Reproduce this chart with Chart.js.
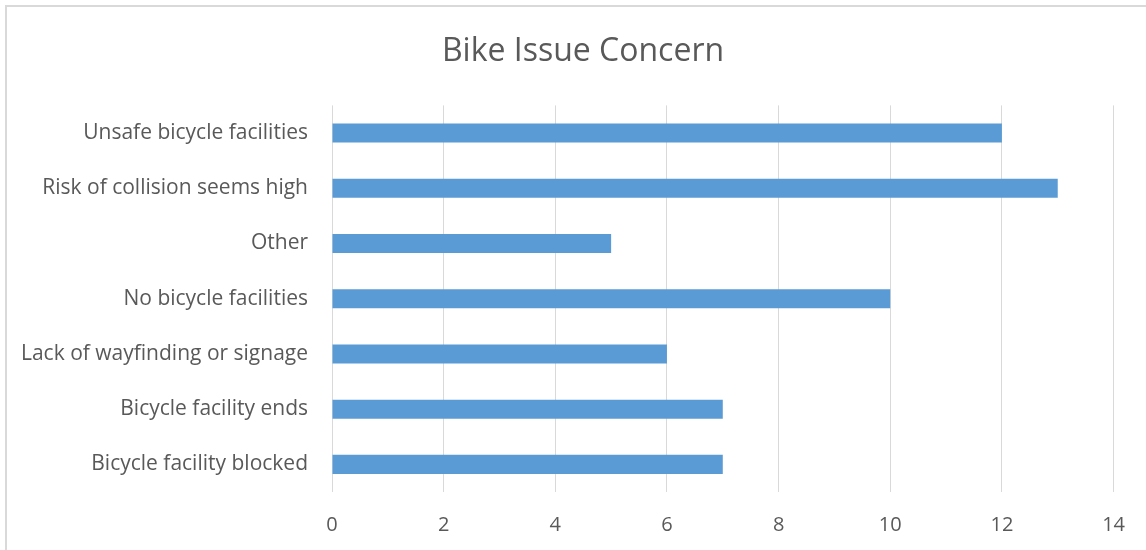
<!DOCTYPE html>
<html>
<head>
<meta charset="utf-8">
<script src="https://cdn.jsdelivr.net/npm/chart.js@4/dist/chart.umd.min.js"></script>
<style>
  html, body { margin: 0; padding: 0; background: #fff; overflow: hidden; }
  #wrap { position: relative; width: 1146px; height: 550px; }
  #frame { position: absolute; left: 5px; top: 5px; width: 1200px; height: 600px;
           border: 2px solid #d9d9d9; box-sizing: border-box; }
  canvas { position: absolute; left: 0; top: 0; }
</style>
</head>
<body>
<div id="wrap">
  <div id="frame"></div>
  <canvas id="chart" width="1146" height="550"></canvas>
</div>
<script>
const CATEGORIES = [
  "Unsafe bicycle facilities",
  "Risk of collision seems high",
  "Other",
  "No bicycle facilities",
  "Lack of wayfinding or signage",
  "Bicycle facility ends",
  "Bicycle facility blocked",
];

const COUNTS = [12, 13, 5, 10, 6, 7, 7];

const X_MIN = 0;
const X_MAX = 14;
const X_STEP = 2;

const TEXT_COLOR = "#595959";
const BAR_COLOR = "#5b9bd5";
const GRID_COLOR = "#d9d9d9";
const FONT = "'Open Sans', sans-serif";

// the original title sits a bit right of the canvas centre
const shiftTitle = {
  id: "shiftTitle",
  afterLayout(chart) {
    if (chart.titleBlock) chart.titleBlock.left = 48;
  },
};

const ctx = document.getElementById("chart").getContext("2d");

new Chart(ctx, {
  type: "bar",
  data: {
    labels: CATEGORIES,
    datasets: [
      {
        label: "Count",
        data: COUNTS,
        backgroundColor: BAR_COLOR,
        barPercentage: 0.345,
        categoryPercentage: 1.0,
      },
    ],
  },
  options: {
    indexAxis: "y",
    responsive: false,
    animation: false,
    layout: { padding: { left: 0, right: 28, top: 0, bottom: 0 } },
    plugins: {
      legend: { display: false },
      tooltip: { enabled: false },
      title: {
        display: true,
        text: "Bike Issue Concern",
        color: TEXT_COLOR,
        font: { family: FONT, size: 32, weight: "normal", lineHeight: 1.2 },
        padding: { top: 33, bottom: 34 },
      },
    },
    scales: {
      x: {
        min: X_MIN,
        max: X_MAX,
        ticks: {
          stepSize: X_STEP,
          color: TEXT_COLOR,
          font: { family: FONT, size: 20 },
          padding: 21,
        },
        grid: { color: GRID_COLOR, lineWidth: 1, drawTicks: false },
        border: { display: false },
        afterFit(scale) { scale.height = 58; },
      },
      y: {
        ticks: {
          color: TEXT_COLOR,
          font: { family: FONT, size: 21 },
          padding: 24,
        },
        grid: { display: false, drawTicks: false },
        border: { display: false },
        afterFit(scale) { scale.width = 332; },
      },
    },
  },
  plugins: [shiftTitle],
});
</script>
</body>
</html>
